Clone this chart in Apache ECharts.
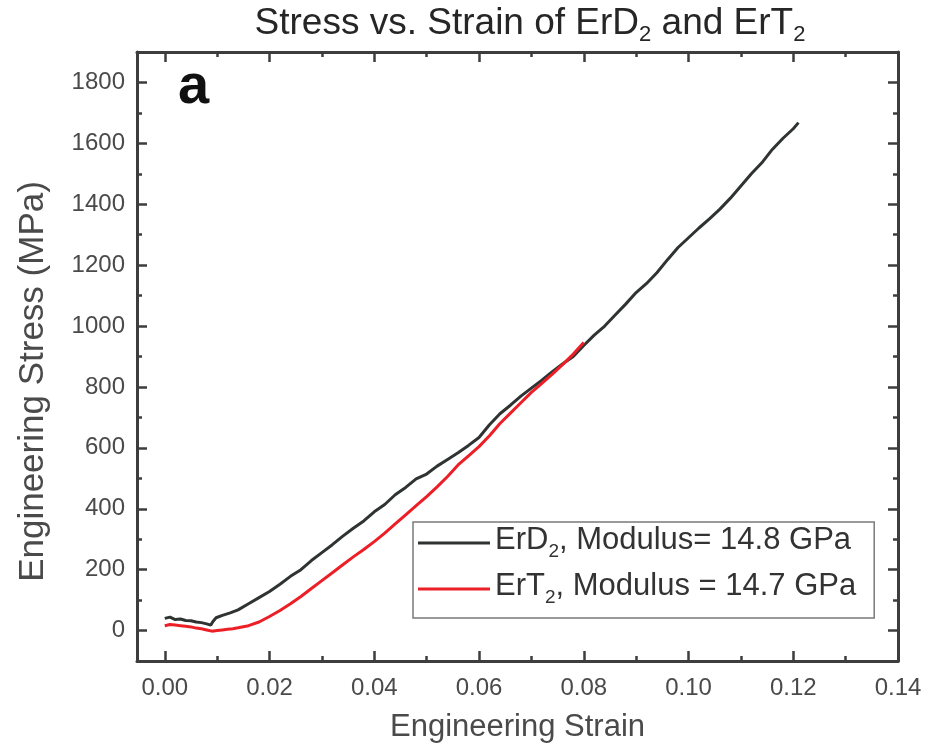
<!DOCTYPE html>
<html>
<head>
<meta charset="utf-8">
<script src="https://cdn.jsdelivr.net/npm/echarts@6/dist/echarts.min.js"></script>
<style>
html,body{margin:0;padding:0;background:#fff;}
#c{width:936px;height:750px;}
</style>
</head>
<body>
<div id="c"></div>
<script>
// ---- data ----
const seriesNames = ['ErD2, Modulus= 14.8 GPa', 'ErT2, Modulus = 14.7 GPa'];

const strainD = [0.000,0.001,0.002,0.003,0.004,0.005,0.006,0.007,0.008,0.0088,0.0092,0.0098,0.011,0.0125,0.014,0.016,0.018,0.020,0.022,0.024,0.026,0.028,0.030,0.032,0.034,0.036,0.038,0.040,0.042,0.044,0.046,0.048,0.050,0.052,0.054,0.056,0.058,0.060,0.062,0.064,0.066,0.068,0.070,0.072,0.074,0.076,0.078,0.080,0.082,0.084,0.086,0.088,0.090,0.092,0.094,0.096,0.098,0.100,0.102,0.104,0.106,0.108,0.110,0.112,0.114,0.116,0.118,0.120,0.121];
const stressD = [40,44,36,38,33,32,28,26,22,18,30,42,50,58,68,88,108,128,152,178,200,230,256,282,310,336,360,390,414,446,470,498,514,540,562,584,608,634,676,712,740,770,796,822,850,876,900,936,970,1000,1036,1072,1110,1140,1176,1218,1258,1290,1322,1352,1384,1420,1460,1500,1536,1580,1616,1648,1668];

const strainT = [0.000,0.001,0.002,0.003,0.004,0.005,0.006,0.007,0.008,0.009,0.010,0.011,0.012,0.013,0.014,0.016,0.018,0.020,0.022,0.024,0.026,0.028,0.030,0.032,0.034,0.036,0.038,0.040,0.042,0.044,0.046,0.048,0.050,0.052,0.054,0.056,0.058,0.060,0.062,0.064,0.066,0.068,0.070,0.072,0.074,0.076,0.078,0.080];
const stressT = [16,20,18,16,14,12,8,6,2,-2,0,2,4,6,9,16,28,46,66,88,112,138,164,190,216,242,266,292,320,350,380,410,440,472,506,544,574,604,640,680,714,748,782,812,842,874,908,946];

const xTicks = [0,0.02,0.04,0.06,0.08,0.10,0.12,0.14];
const xMinorTicks = [0.01,0.03,0.05,0.07,0.09,0.11,0.13];
const yTicks = [0,200,400,600,800,1000,1200,1400,1600,1800];
const yMinorTicks = [100,300,500,700,900,1100,1300,1500,1700];

const X_MIN = -0.0053, X_MAX = 0.14, Y_MIN = -100, Y_MAX = 1900;

// ---- chart ----
const FONT = '"Liberation Sans", Arial, Helvetica, sans-serif';
const AX = '#3d3d3d';
const LBL = '#4a4a4a';
const chart = echarts.init(document.getElementById('c'), null, {renderer: 'canvas'});

function pairs(xs, ys) { return xs.map((x, i) => [x, ys[i]]); }

function xAx(pos, ticks, len, showLine, showLabel) {
  const a = {
    type: 'value', position: pos, min: X_MIN, max: X_MAX,
    axisLine: {show: showLine, onZero: false, lineStyle: {color: AX, width: 3}},
    axisTick: {show: true, inside: true, length: len, customValues: ticks, lineStyle: {color: AX, width: 2.5}},
    axisLabel: {show: showLabel, customValues: ticks, margin: 15, fontSize: 24, fontFamily: FONT, color: LBL,
      formatter: v => v.toFixed(2)},
    splitLine: {show: false}
  };
  if (showLabel) {
    a.name = 'Engineering Strain';
    a.nameLocation = 'middle';
    a.nameGap = 51;
    a.nameTextStyle = {fontSize: 31, fontFamily: FONT, color: LBL};
  }
  return a;
}
function yAx(pos, ticks, len, showLine, showLabel) {
  const a = {
    type: 'value', position: pos, min: Y_MIN, max: Y_MAX,
    axisLine: {show: showLine, onZero: false, lineStyle: {color: AX, width: 3}},
    axisTick: {show: true, inside: true, length: len, customValues: ticks, lineStyle: {color: AX, width: 2.5}},
    axisLabel: {show: showLabel, customValues: ticks, margin: 12, fontSize: 24, fontFamily: FONT, color: LBL,
      formatter: v => String(v)},
    splitLine: {show: false}
  };
  if (showLabel) {
    a.name = 'Engineering Stress (MPa)';
    a.nameLocation = 'middle';
    a.nameGap = 86;
    a.nameTextStyle = {fontSize: 35, fontFamily: FONT, color: LBL, padding: [0, 50, 0, 0]};
  }
  return a;
}

const legendFmt = n => {
  const i = n.indexOf('2');
  return '{m|' + n.slice(0, i) + '}{s|2}{m|' + n.slice(i + 1) + '}';
};

const option = {
  backgroundColor: '#fff',
  animation: false,
  title: {
    text: '{m|Stress vs. Strain of ErD}{s|2}{m| and ErT}{s|2}',
    left: 530, top: 5, padding: 0, textAlign: 'center',
    textStyle: {
      fontWeight: 'normal',
      rich: {
        m: {fontSize: 37, fontFamily: FONT, fontWeight: 'normal', color: '#262626', lineHeight: 37, verticalAlign: 'top'},
        s: {fontSize: 22, fontFamily: FONT, fontWeight: 'normal', color: '#262626', lineHeight: 41, verticalAlign: 'bottom'}
      }
    }
  },
  grid: {left: 137, right: 38, top: 52, bottom: 89, containLabel: false},
  xAxis: [
    xAx('bottom', xTicks, 10, true, true),
    xAx('top', xTicks, 10, true, false),
    xAx('bottom', xMinorTicks, 5, false, false),
    xAx('top', xMinorTicks, 5, false, false)
  ],
  yAxis: [
    yAx('left', yTicks, 10, true, true),
    yAx('right', yTicks, 10, true, false),
    yAx('left', yMinorTicks, 5, false, false),
    yAx('right', yMinorTicks, 5, false, false)
  ],
  legend: {
    orient: 'vertical', left: 413, top: 522,
    padding: [3, 18, 11, 5], itemGap: 10,
    itemWidth: 72, itemHeight: 3, icon: 'rect',
    borderColor: '#7a7a7a', borderWidth: 1.5, backgroundColor: '#fff',
    data: seriesNames,
    formatter: legendFmt,
    textStyle: {
      rich: {
        m: {fontSize: 31, fontFamily: FONT, color: '#333', lineHeight: 31, verticalAlign: 'top'},
        s: {fontSize: 19, fontFamily: FONT, color: '#333', lineHeight: 36, verticalAlign: 'bottom'}
      }
    }
  },
  graphic: [{
    type: 'text', left: 178, top: 60,
    style: {text: 'a', font: 'bold 56px ' + FONT, fill: '#111'}
  }],
  series: [
    {name: seriesNames[0], type: 'line', xAxisIndex: 0, yAxisIndex: 0, showSymbol: false, symbol: 'none',
      color: '#2f3433', lineStyle: {width: 3, color: '#2f3433'}, data: pairs(strainD, stressD)},
    {name: seriesNames[1], type: 'line', xAxisIndex: 0, yAxisIndex: 0, showSymbol: false, symbol: 'none',
      color: '#ec1f27', lineStyle: {width: 3, color: '#ec1f27'}, data: pairs(strainT, stressT)}
  ]
};
chart.setOption(option);
</script>
</body>
</html>
